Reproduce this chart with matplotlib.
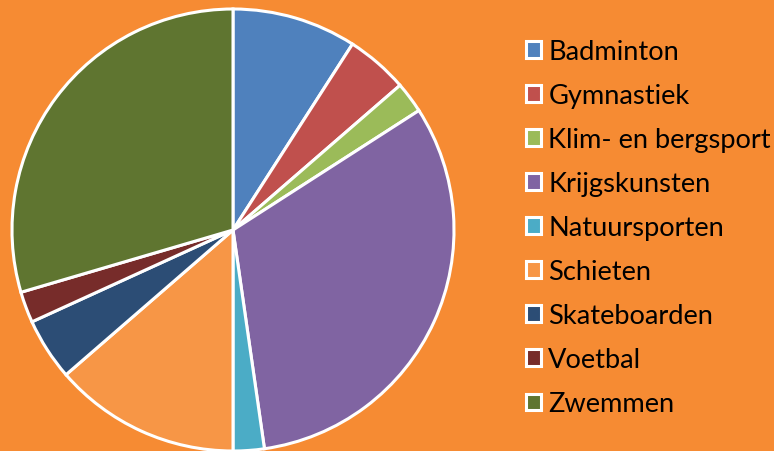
import matplotlib
matplotlib.use("Agg")
import matplotlib.pyplot as plt
from matplotlib.patches import Patch

categories = ["Badminton", "Gymnastiek", "Klim- en bergsport", "Krijgskunsten",
              "Natuursporten", "Schieten", "Skateboarden", "Voetbal", "Zwemmen"]
values = [4, 2, 1, 14, 1, 6, 2, 1, 13]
colors = ["#4F81BD", "#C0504D", "#9BBB59", "#8064A2", "#4BACC6",
          "#F79646", "#2C4D75", "#772C2A", "#5F7530"]
bg = "#F68B33"

W, H = 774, 452
fig = plt.figure(figsize=(W/100, H/100), dpi=100, facecolor=bg)
cx, cy, r = 233, 231, 221
ax = fig.add_axes([(cx - r)/W, (H - cy - r)/H, 2*r/W, 2*r/H])
ax.set_facecolor(bg)
ax.pie(values, colors=colors, startangle=90, counterclock=False,
       wedgeprops=dict(edgecolor="white", linewidth=2.2))
ax.set_xlim(-1, 1); ax.set_ylim(-1, 1)
ax.set_aspect("equal")
ax.axis("off")

handles = [Patch(facecolor=c, edgecolor="white", linewidth=2.2) for c in colors]
leg = fig.legend(handles, categories, loc="upper left",
                 bbox_to_anchor=(526/W, 1 - 40/H), frameon=False,
                 prop=dict(family="Lato", size=19.6),
                 handlelength=0.56, handleheight=0.56, handletextpad=0.26,
                 labelspacing=0.7, borderaxespad=0, borderpad=0)
for t in leg.get_texts():
    t.set_color("black")

fig.savefig("out.png", dpi=100, facecolor=bg)
